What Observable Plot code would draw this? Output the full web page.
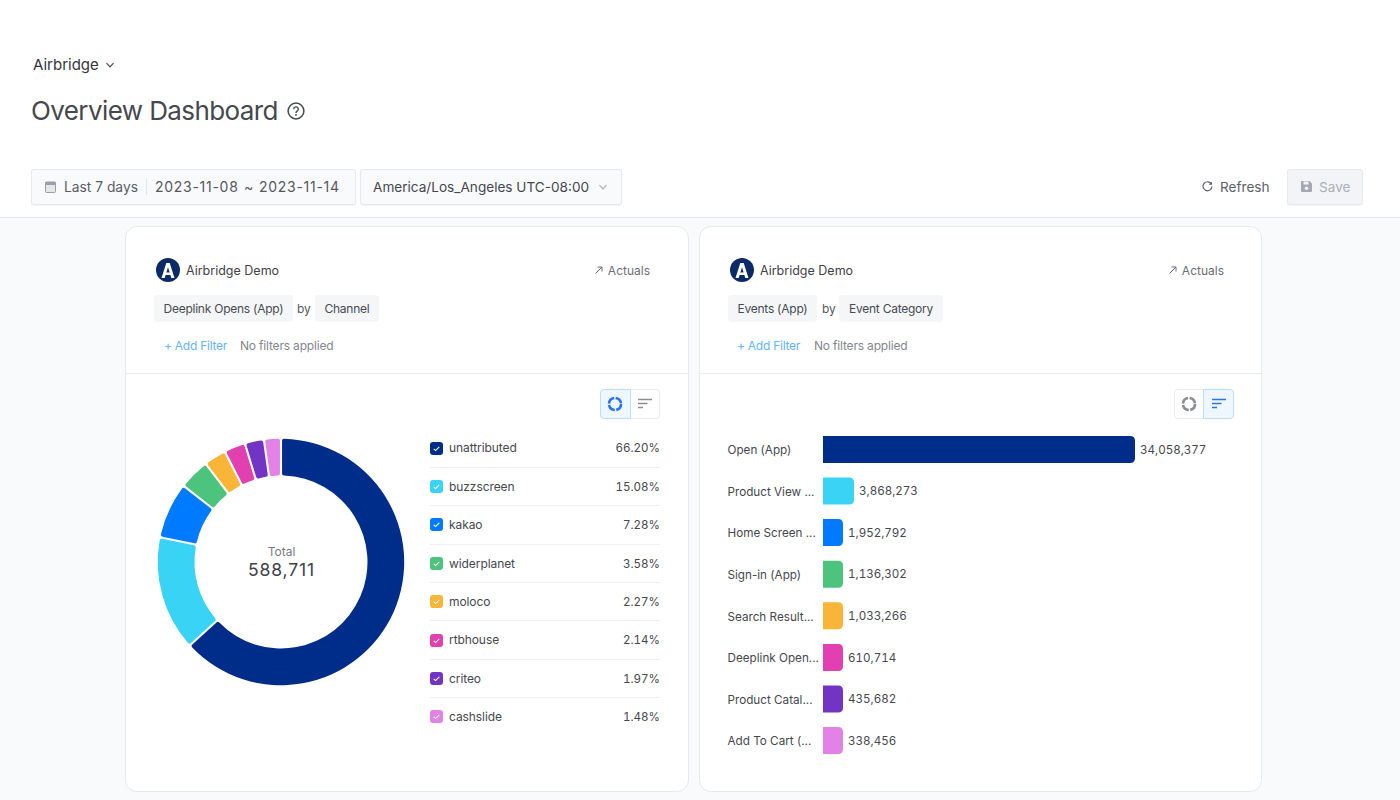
<!DOCTYPE html>
<html><head><meta charset="utf-8">
<script src="https://cdn.jsdelivr.net/npm/d3@7"></script>
<script src="https://cdn.jsdelivr.net/npm/@observablehq/plot@0.6"></script>
<style>
html,body{margin:0;padding:0;width:1400px;height:800px;overflow:hidden;background:#fff;font-family:Inter,sans-serif;color:#3f4248}
.a{position:absolute;white-space:nowrap}
.box{background:#f8fafc;border:1px solid #e6e9ee;border-radius:3px;box-sizing:border-box;box-shadow:0 1px 1px rgba(30,40,60,.05)}
.card{background:#fff;border:1px solid #e6e9ee;border-radius:12px;box-sizing:border-box}
.chip{background:#f5f6f8;border-radius:4px;height:27px;line-height:28px;font-size:12px;letter-spacing:-.24px;text-align:center;color:#484b51}
.plot{position:absolute}
svg{display:block}
</style></head><body>
<div id="page"></div>
<script>
// ---- data ----
const channels = ["unattributed","buzzscreen","kakao","widerplanet","moloco","rtbhouse","criteo","cashslide"];
const channelPercents = [66.20,15.08,7.28,3.58,2.27,2.14,1.97,1.48];
// slice sizes as drawn (small slices are given a minimum size), % of the ring
const channelDrawnShares = [63.2,15.0,7.36,4.03,2.92,2.78,2.5,2.21];
const channelTotal = 588711;
const events = ["Open (App)","Product View ...","Home Screen ...","Sign-in (App)","Search Result...","Deeplink Open...","Product Catal...","Add To Cart (..."];
const eventValues = [34058377,3868273,1952792,1136302,1033266,610714,435682,338456];
// bar lengths as drawn (short bars are given a minimum length), % of the longest bar
const eventDrawnShares = [100,9.94,6.41,6.41,6.41,6.41,6.41,6.41];
const palette = ["#002c8a","#38d3f5","#007bff","#4dc47d","#f8b538","#e23fb0","#7234c4","#e281e6"];

const page = document.getElementById("page");
function el(cls, left, top, w, h, html, extra){
  const d = document.createElement("div");
  d.className = "a " + cls;
  d.style.cssText = `left:${left}px;top:${top}px;` + (w!=null?`width:${w}px;`:"") + (h!=null?`height:${h}px;`:"") + (extra||"");
  if (html!=null) d.innerHTML = html;
  page.appendChild(d);
  return d;
}
const chevron = (c,s=10)=>`<svg width="${s}" height="${s}" viewBox="0 0 10 10"><path d="M1.5 3.2 5 6.8 8.5 3.2" fill="none" stroke="${c}" stroke-width="1.2"/></svg>`;

// header
el("",33,55,null,20,"Airbridge","font-size:15px;line-height:20px;color:#33363b");
el("",105,60,10,10,chevron("#45484e"));
el("",31,94,null,34,"Overview Dashboard","font-size:26px;line-height:34px;color:#45484d;letter-spacing:-.6px");
el("",287,102,18,18,`<svg width="18" height="18" viewBox="0 0 18 18"><circle cx="9" cy="9" r="7.9" fill="none" stroke="#45484d" stroke-width="1.5"/><path d="M6.7 7.2a2.3 2.3 0 1 1 3.4 2c-.8.5-1.1.9-1.1 1.8" fill="none" stroke="#45484d" stroke-width="1.4"/><circle cx="9" cy="13" r=".9" fill="#45484d"/></svg>`);
el("box",31,169,325,36);
el("",45,181,11,12,`<svg width="11" height="12" viewBox="0 0 11 12"><rect x=".5" y="1" width="10" height="10.5" rx="1" fill="#e4e6ea" stroke="#9aa0a8"/><rect x=".5" y="1" width="10" height="3" fill="#9aa0a8"/></svg>`);
el("",64,177,null,20,"Last 7 days","font-size:13.8px;line-height:20px;color:#5a5e65");
el("",146,179,1,16,"","background:#e3e6eb");
const dateStyle = "font-size:14px;line-height:20px;color:#55585f;letter-spacing:.72px";
el("",155,177,null,20,"2023-11-08",dateStyle);
el("",244,177,null,20,"~",dateStyle);
el("",259,177,null,20,"2023-11-14",dateStyle);
el("box",360,169,262,36);
el("",373,177,null,20,"America/Los_Angeles UTC-08:00","font-size:13.6px;line-height:20px;color:#45484e");
el("",598,182,10,10,chevron("#a8adb5"));
el("",1201,180,13,13,`<svg width="13" height="13" viewBox="0 0 13 13"><path d="M10.5 4.2A4.5 4.5 0 1 0 11 6.5" fill="none" stroke="#5f636a" stroke-width="1.2"/><path d="M11 1.6v3.2H7.8z" fill="#5f636a"/></svg>`);
el("",1220,177,null,20,"Refresh","font-size:13.6px;line-height:20px;color:#5c6067");
el("box",1287,169,76,36,null,"background:#f3f4f7");
el("",1300,180,13,13,`<svg width="13" height="13" viewBox="0 0 13 13"><path d="M1 2a1 1 0 0 1 1-1h7.5L12 3.5V11a1 1 0 0 1-1 1H2a1 1 0 0 1-1-1z" fill="#a3a9b3"/><rect x="3.5" y="1.5" width="5" height="3" fill="#f3f4f7"/><circle cx="6.5" cy="8.3" r="1.7" fill="#f3f4f7"/></svg>`);
el("",1319,177,null,20,"Save","font-size:13.6px;line-height:20px;color:#aab0b9");
el("",0,217,1400,583,null,"background:#f8fafc;border-top:1px solid #e4e8ee;box-sizing:border-box");

const logo = `<svg width="24" height="24" viewBox="0 0 24 24"><circle cx="12" cy="12" r="12" fill="#0c2a68"/><path d="M5.5 20 10.3 5h3.4L18.5 20h-3.2l-.9-3H9.6l-.9 3zM10.4 14.4h3.2L12 9.2z" fill="#fff"/></svg>`;
const ringIcon = (c)=>`<svg width="16" height="16" viewBox="0 0 16 16"><circle cx="8" cy="8" r="6" fill="none" stroke="${c}" stroke-width="2.6" stroke-dasharray="7.9 1.5"/></svg>`;
const sortIcon = (c)=>`<svg width="16" height="12" viewBox="0 0 16 12"><path d="M1 1.5h14M1 5.5h9.5M1 9.5h5" fill="none" stroke="${c}" stroke-width="1.5"/></svg>`;

function card(x, w, chip1, chip1w, chip2, chip2w, byX, chip2x, addX, noX, ringOn){
  el("card",x,226,w,566);
  el("",x+31,258,24,24,logo);
  el("",x+61,261.5,null,18,"Airbridge Demo","font-size:12.5px;line-height:18px;color:#3f4248");
  el("",x+469,264,10,12,`<svg width="10" height="12" viewBox="0 0 10 10"><path d="M1.5 8.5 8 2M3.5 2H8v4.5" fill="none" stroke="#6b6f76" stroke-width="1"/></svg>`);
  el("",x+480,262,45,18,"Actuals","font-size:12px;line-height:18px;color:#6b6f76;text-align:right");
  el("chip",x+29,295,chip1w,27,chip1);
  el("",byX,300,null,18,"by","font-size:12px;line-height:18px;color:#55585f");
  el("chip",chip2x,295,chip2w,27,chip2);
  el("",addX,336.5,null,18,"+ Add Filter","font-size:12px;line-height:18px;letter-spacing:-.25px;color:#62b5ff");
  el("",noX,336.5,null,18,"No filters applied","font-size:12px;line-height:18px;letter-spacing:-.18px;color:#83878e");
  el("",x+1,373,w-2,1,"","background:#e9ecf1");
  const bx = x+475;
  el("",bx,389,60,30,"","box-sizing:border-box;border:1px solid #e9ecf0;border-radius:4px;background:#fff");
  el("",ringOn?bx:bx+29,389,31,30,"","box-sizing:border-box;border:1px solid #bcdfff;border-radius:"+(ringOn?"4px 0 0 4px":"0 4px 4px 0")+";background:#eef7ff");
  el("",bx+7,396,16,16,ringIcon(ringOn?"#2b74f0":"#8a8e95"));
  el("",bx+37,398,16,12,sortIcon(ringOn?"#8a8e95":"#2b74f0"));
}
card(125,564,"Deeplink Opens (App)",139,"Channel",64,297,315,164,240,true);
card(699,563,"Events (App)",89,"Event Category",104,822,839,737,814,false);

// donut
const donutRows = channels.map((name,i)=>({name, share:channelDrawnShares[i]}));
const donut = Plot.plot({
  width:280, height:280, margin:0, style:{background:"transparent"},
  color:{type:"ordinal", domain:channels, range:palette},
  marks:[
    Plot.dot(donutRows,{fill:"name", frameAnchor:"middle", render(index,scales,values,dims){
      const g = d3.create("svg:g").attr("transform",`translate(${dims.width/2},${dims.height/2})`);
      const pie = d3.pie().value(i=>donutRows[i].share).sort(null)(index);
      const arc = d3.arc().innerRadius(86.5).outerRadius(123.2).cornerRadius(2).padAngle(0.017).padRadius(123.2);
      g.selectAll("path").data(pie).join("path").attr("d",arc).attr("fill",a=>values.fill[a.data]);
      return g.node();
    }}),
    Plot.text(["Total"],{frameAnchor:"middle",dy:-10,fontSize:12,fill:"#777b82",fontFamily:"Inter"}),
    Plot.text([d3.format(",")(channelTotal)],{frameAnchor:"middle",dy:8,fontSize:17.5,fill:"#3f4248",fontFamily:"Inter"})
  ]
});
el("plot",141,422,280,280).appendChild(donut);
donut.querySelectorAll("text").forEach(t=>{ if(t.textContent.includes(",")) t.style.letterSpacing="0.85px"; });

// legend list
channels.forEach((name,i)=>{
  const cy = 448 + i*38.4;
  el("",430,cy-6.5,13,13,`<svg width="13" height="13" viewBox="0 0 13 13"><rect width="13" height="13" rx="3" fill="${palette[i]}"/><path d="M3.7 6.8 5.6 8.6 9.3 4.8" fill="none" stroke="#fff" stroke-width="1.1"/></svg>`);
  el("",449,cy-8.7,null,18,name,"font-size:12px;letter-spacing:-.08px;line-height:18px;color:#45484e");
  el("",560,cy-8.7,100,18,channelPercents[i].toFixed(2)+"%","font-size:11.6px;line-height:18px;color:#45484e;text-align:right;font-variant-numeric:tabular-nums");
  if (i<channels.length-1) el("",430,cy+18.8,230,1,"","background:#eceff3");
});

// bars
const eventRows = events.map((name,i)=>({name,value:eventValues[i],drawn:eventDrawnShares[i]}));
const fmt = d3.format(",");
const bars = Plot.plot({
  width:560, height:340, marginTop:0, marginBottom:0, marginRight:124, marginLeft:124,
  style:{background:"transparent",fontFamily:"Inter"},
  x:{axis:null, domain:[0,100]},
  y:{axis:null, domain:events, range:[3.6,336.4], paddingInner:0.35, paddingOuter:0.175, round:false},
  color:{type:"ordinal",domain:events,range:palette},
  marks:[
    Plot.barX(eventRows,{x1:0,x2:"drawn",y:"name",fill:"name",render(i,s,v,d,c,next){
      const g = next(i,s,v,d,c);
      d3.select(g).selectAll("rect").each(function(){
        const x=+this.getAttribute("x"),y=+this.getAttribute("y"),w=+this.getAttribute("width"),h=+this.getAttribute("height"),r=5;
        const p=document.createElementNS("http://www.w3.org/2000/svg","path");
        p.setAttribute("d",`M${x} ${y}H${x+w-r}Q${x+w} ${y} ${x+w} ${y+r}V${y+h-r}Q${x+w} ${y+h} ${x+w-r} ${y+h}H${x}Z`);
        p.setAttribute("fill",this.getAttribute("fill"));
        this.replaceWith(p);
      });
      return g;
    }}),
    Plot.text(eventRows,{x:()=>0,y:"name",text:"name",textAnchor:"start",dx:-96,dy:0.5,fontSize:11.7,fill:"#45484e",fontFamily:"Inter"}),
    Plot.text(eventRows,{x:"drawn",y:"name",text:d=>fmt(d.value),textAnchor:"start",dx:4.5,fontSize:11.6,fontVariant:"tabular-nums",fill:"#45484e",fontFamily:"Inter"})
  ]
});
el("plot",699,425,560,340).appendChild(bars);
</script>
</body></html>
